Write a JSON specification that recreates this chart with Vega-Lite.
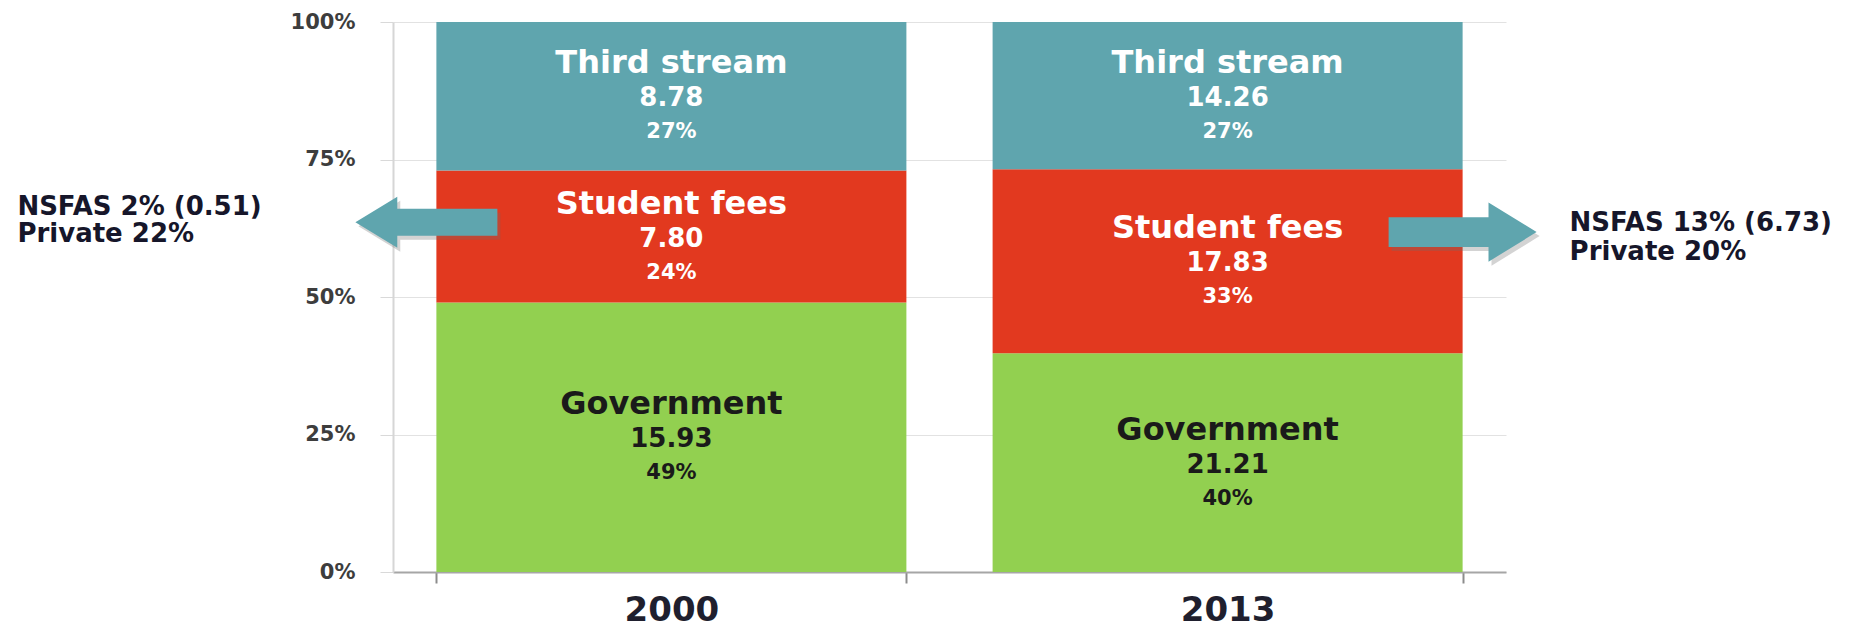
{
  "$schema": "https://vega.github.io/schema/vega-lite/v6.json",
  "width": 1113,
  "height": 550,
  "autosize": {"type": "none"},
  "padding": {"left": 393, "top": 22, "right": 363, "bottom": 59},
  "background": "white",
  "config": {"view": {"stroke": null}},
  "datasets": {
    "bars": [
      {"year": "2000", "source": "Government", "value": 15.93, "pct": "49%"},
      {"year": "2000", "source": "Student fees", "value": 7.80, "pct": "24%"},
      {"year": "2000", "source": "Third stream", "value": 8.78, "pct": "27%"},
      {"year": "2013", "source": "Government", "value": 21.21, "pct": "40%"},
      {"year": "2013", "source": "Student fees", "value": 17.83, "pct": "33%"},
      {"year": "2013", "source": "Third stream", "value": 14.26, "pct": "27%"}
    ],
    "arrows": [
      {"year": "2000", "dir": "left", "y": 0.636},
      {"year": "2013", "dir": "right", "y": 0.618}
    ],
    "notes": [
      {"year": "2000", "side": "left", "y": 0.664, "label": ["NSFAS 2% (0.51)", "Private 22%"]},
      {"year": "2013", "side": "right", "y": 0.635, "label": ["NSFAS 13% (6.73)", "Private 20%"]}
    ]
  },
  "encoding": {
    "x": {
      "field": "year",
      "type": "nominal",
      "title": null,
      "scale": {"domain": ["2000", "2013"], "paddingInner": 0.155, "paddingOuter": 0.078},
      "axis": {
        "labelAngle": 0,
        "labelFont": "DejaVu Sans",
        "labelFontWeight": "bold",
        "labelFontSize": 34,
        "labelColor": "#1f1f2e",
        "labelPadding": 10,
        "tickBand": "extent",
        "tickSize": 11,
        "tickWidth": 2,
        "tickColor": "#8c8c8c",
        "domainColor": "#a6a6a6",
        "domainWidth": 2,
        "grid": false
      }
    }
  },
  "layer": [
    {
      "data": {"name": "bars"},
      "mark": {"type": "bar"},
      "encoding": {
        "y": {
          "field": "value",
          "type": "quantitative",
          "stack": "normalize",
          "title": null,
          "scale": {"domain": [0, 1]},
          "axis": {
            "values": [0, 0.25, 0.5, 0.75, 1],
            "format": "%",
            "labelFont": "DejaVu Sans",
            "labelFontWeight": "bold",
            "labelFontSize": 21,
            "labelColor": "#3d3d3d",
            "labelPadding": 25,
            "tickSize": 13,
            "tickColor": "#d9d9d9",
            "domainColor": "#d6d6d6",
            "domainWidth": 2,
            "grid": true,
            "gridColor": "#e2e2e2"
          }
        },
        "order": {"field": "source", "sort": "ascending"},
        "color": {
          "field": "source",
          "type": "nominal",
          "scale": {"domain": ["Government", "Student fees", "Third stream"], "range": ["#92d050", "#e2391f", "#5fa5ae"]},
          "legend": null
        }
      }
    },
    {
      "data": {"name": "bars"},
      "mark": {"type": "text", "font": "DejaVu Sans", "fontWeight": "bold", "fontSize": 32, "dy": -33, "baseline": "middle"},
      "encoding": {
        "y": {"field": "value", "type": "quantitative", "stack": "normalize", "bandPosition": 0.5, "title": null},
        "detail": {"field": "source"},
        "order": {"field": "source", "sort": "ascending"},
        "text": {"field": "source"},
        "color": {"condition": {"test": "datum.source === 'Government'", "value": "#1a1a1a"}, "value": "white"}
      }
    },
    {
      "data": {"name": "bars"},
      "mark": {"type": "text", "font": "DejaVu Sans", "fontWeight": "bold", "fontSize": 26, "dy": 2, "baseline": "middle"},
      "encoding": {
        "y": {"field": "value", "type": "quantitative", "stack": "normalize", "bandPosition": 0.5, "title": null},
        "detail": {"field": "source"},
        "order": {"field": "source", "sort": "ascending"},
        "text": {"field": "value", "format": ".2f"},
        "color": {"condition": {"test": "datum.source === 'Government'", "value": "#1a1a1a"}, "value": "white"}
      }
    },
    {
      "data": {"name": "bars"},
      "mark": {"type": "text", "font": "DejaVu Sans", "fontWeight": "bold", "fontSize": 21, "dy": 36, "baseline": "middle"},
      "encoding": {
        "y": {"field": "value", "type": "quantitative", "stack": "normalize", "bandPosition": 0.5, "title": null},
        "detail": {"field": "source"},
        "order": {"field": "source", "sort": "ascending"},
        "text": {"field": "pct"},
        "color": {"condition": {"test": "datum.source === 'Government'", "value": "#1a1a1a"}, "value": "white"}
      }
    },
    {
      "data": {"name": "arrows"},
      "transform": [{"filter": "datum.dir === 'left'"}],
      "mark": {"type": "point", "filled": true, "shape": "M-1,0L-0.41,-0.36L-0.41,-0.19L1,-0.19L1,0.19L-0.41,0.19L-0.41,0.36Z", "size": 20164, "color": "#6e6e6e", "opacity": 0.3, "xOffset": -242, "yOffset": 4},
      "encoding": {"y": {"field": "y", "type": "quantitative", "title": null}}
    },
    {
      "data": {"name": "arrows"},
      "transform": [{"filter": "datum.dir === 'left'"}],
      "mark": {"type": "point", "filled": true, "shape": "M-1,0L-0.41,-0.36L-0.41,-0.19L1,-0.19L1,0.19L-0.41,0.19L-0.41,0.36Z", "size": 20164, "color": "#5fa5ae", "opacity": 1, "xOffset": -245},
      "encoding": {"y": {"field": "y", "type": "quantitative", "title": null}}
    },
    {
      "data": {"name": "arrows"},
      "transform": [{"filter": "datum.dir === 'right'"}],
      "mark": {"type": "point", "filled": true, "shape": "M1,0L0.35,-0.4L0.35,-0.2L-1,-0.2L-1,0.2L0.35,0.2L0.35,0.4Z", "size": 21904, "color": "#6e6e6e", "opacity": 0.3, "xOffset": 238, "yOffset": 4},
      "encoding": {"y": {"field": "y", "type": "quantitative", "title": null}}
    },
    {
      "data": {"name": "arrows"},
      "transform": [{"filter": "datum.dir === 'right'"}],
      "mark": {"type": "point", "filled": true, "shape": "M1,0L0.35,-0.4L0.35,-0.2L-1,-0.2L-1,0.2L0.35,0.2L0.35,0.4Z", "size": 21904, "color": "#5fa5ae", "opacity": 1, "xOffset": 235},
      "encoding": {"y": {"field": "y", "type": "quantitative", "title": null}}
    },
    {
      "data": {"name": "notes"},
      "transform": [{"filter": "datum.side === 'left'"}],
      "mark": {"type": "text", "align": "left", "baseline": "middle", "font": "DejaVu Sans", "fontWeight": "bold", "fontSize": 26, "lineHeight": 27, "color": "#16162a", "xOffset": -654},
      "encoding": {"y": {"field": "y", "type": "quantitative", "title": null}, "text": {"field": "label"}}
    },
    {
      "data": {"name": "notes"},
      "transform": [{"filter": "datum.side === 'right'"}],
      "mark": {"type": "text", "align": "left", "baseline": "middle", "font": "DejaVu Sans", "fontWeight": "bold", "fontSize": 26, "lineHeight": 29, "color": "#16162a", "xOffset": 342},
      "encoding": {"y": {"field": "y", "type": "quantitative", "title": null}, "text": {"field": "label"}}
    }
  ]
}
